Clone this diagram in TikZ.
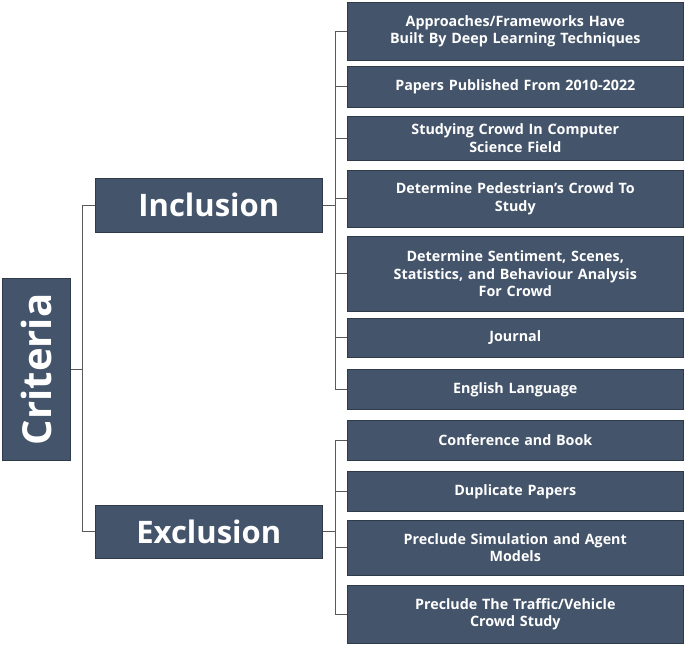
\documentclass[tikz,border=0pt]{standalone}
\usepackage{fontspec}
\setmainfont{Open Sans}
\definecolor{box}{HTML}{44546A}
\begin{document}
\begin{tikzpicture}[x=1pt,y=-1pt,
  b/.style={fill=box,draw=box!70!black,line width=0.6pt,text=white,font=\bfseries,align=center,inner sep=0pt},
  rb/.style={b,minimum width=336pt,text width=334pt,font=\bfseries\fontsize{14.3}{17.5}\selectfont},
  ln/.style={draw=gray!70!black,line width=0.7pt}]
\useasboundingbox (0,0) rectangle (685,646);
\node[b,minimum width=68pt,minimum height=182pt,anchor=north west] (crit) at (2,278) {};
\node[rotate=90,text=white,font=\bfseries\fontsize{40}{42}\selectfont] at (crit.center) {Criteria};
\node[b,minimum width=227pt,minimum height=54pt,anchor=north west,font=\bfseries\fontsize{31}{33}\selectfont] (inc) at (95,178) {Inclusion};
\node[b,minimum width=227pt,minimum height=53pt,anchor=north west,font=\bfseries\fontsize{31}{33}\selectfont] (exc) at (95,505) {Exclusion};
\node[rb,minimum height=58pt,anchor=north west] (r1) at (347,2) {Approaches/Frameworks Have\\Built By Deep Learning Techniques};
\node[rb,minimum height=41pt,anchor=north west] (r2) at (347,66) {Papers Published From 2010-2022};
\node[rb,minimum height=44pt,anchor=north west] (r3) at (347,116) {Studying Crowd In Computer\\Science Field};
\node[rb,minimum height=57pt,anchor=north west] (r4) at (347,170) {Determine Pedestrian's Crowd To\\Study};
\node[rb,minimum height=75pt,anchor=north west] (r5) at (347,236) {Determine Sentiment, Scenes,\\Statistics, and Behaviour Analysis\\For Crowd};
\node[rb,minimum height=39pt,anchor=north west] (r6) at (347,318) {Journal};
\node[rb,minimum height=40pt,anchor=north west] (r7) at (347,369) {English Language};
\node[rb,minimum height=40pt,anchor=north west] (r8) at (347,420) {Conference and Book};
\node[rb,minimum height=40pt,anchor=north west] (r9) at (347,471) {Duplicate Papers};
\node[rb,minimum height=55pt,anchor=north west] (r10) at (347,520) {Preclude Simulation and Agent\\Models};
\node[rb,minimum height=58pt,anchor=north west] (r11) at (347,585) {Preclude The Traffic/Vehicle\\Crowd Study};
\coordinate (cx) at (82,0);
\coordinate (ix) at (335,0);
\draw[ln] (crit.east) -- (crit.east -| cx);
\draw[ln] (inc.west) -- (inc.west -| cx) -- (exc.west -| cx) -- (exc.west);
\draw[ln] (inc.east) -- (inc.east -| ix);
\draw[ln] (r1.west) -- (r1.west -| ix) -- (r7.west -| ix) -- (r7.west);
\foreach \r in {r2,r3,r4,r5,r6} \draw[ln] (\r.west) -- (\r.west -| ix);
\draw[ln] (exc.east) -- (exc.east -| ix);
\draw[ln] (r8.west) -- (r8.west -| ix) -- (r11.west -| ix) -- (r11.west);
\foreach \r in {r9,r10} \draw[ln] (\r.west) -- (\r.west -| ix);
\end{tikzpicture}
\end{document}
